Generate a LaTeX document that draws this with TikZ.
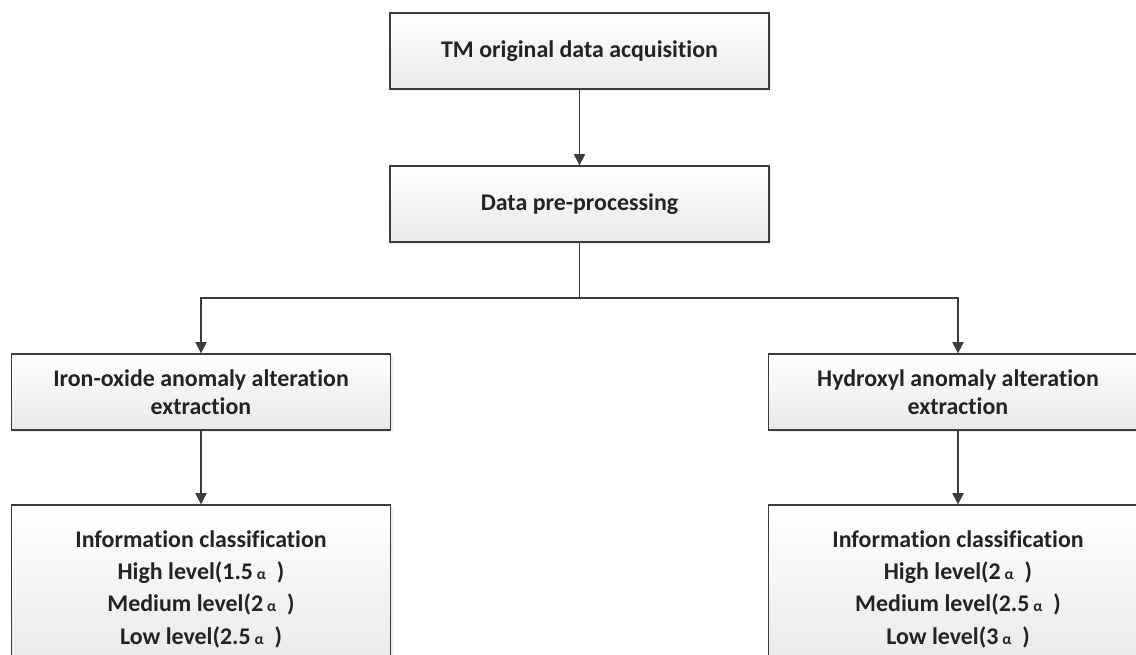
\documentclass[tikz,border=0pt]{standalone}
\usepackage{fontspec}
\setmainfont[Ligatures=NoCommon]{Carlito}
\usetikzlibrary{arrows.meta,shadows,positioning}
\definecolor{boxline}{RGB}{60, 60, 60}
\definecolor{boxtext}{RGB}{35, 35, 35}
\newcommand{\alp}{\,{\fontsize{11}{11}\selectfont α}\ \ }

\begin{document}
\begin{tikzpicture}[x=0.025cm, y=-0.025cm,
    stepbox/.style={draw=boxline, line width=0.9pt, shade, top color=white, bottom color=black!9,
        drop shadow={opacity=0.15, shadow xshift=1.5pt, shadow yshift=-1.5pt},
        minimum width=9.475cm, minimum height=1.9cm, align=center, text=boxtext,
        font=\fontsize{17}{20}\selectfont\bfseries},
    arr/.style={draw=boxline, line width=0.9pt, -{Triangle[width=8pt,length=8pt]}}]
    \useasboundingbox (0,0) rectangle (1136,655);
    \clip (0,0) rectangle (1136,655);

    % Steps
    \node[stepbox] (acq) at (579.5,51) {TM original data acquisition};
    \node[stepbox] (pre) at (579.5,204) {Data pre-processing};

    \node[stepbox] (iron) at (201,392) {Iron-oxide anomaly alteration\\extraction};
    \node[stepbox] (hydro) at (958,392) {Hydroxyl anomaly alteration\\extraction};

    \node[stepbox, minimum height=4.2cm, font=\fontsize{17}{23}\selectfont\bfseries] (ironcls) at (201,589)
        {Information classification\\High level(1.5\alp)\\Medium level(2\alp)\\Low level(2.5\alp)};
    \node[stepbox, minimum height=4.2cm, font=\fontsize{17}{23}\selectfont\bfseries] (hydrocls) at (958,589)
        {Information classification\\High level(2\alp)\\Medium level(2.5\alp)\\Low level(3\alp)};

    % Connectors
    \coordinate (split) at (579.5,298);
    \draw[arr] (acq) -- (pre);
    \draw[boxline, line width=0.9pt] (pre) -- (split);
    \draw[arr] (split) -| (iron);
    \draw[arr] (split) -| (hydro);
    \draw[arr] (iron) -- (ironcls);
    \draw[arr] (hydro) -- (hydrocls);
\end{tikzpicture}
\end{document}
